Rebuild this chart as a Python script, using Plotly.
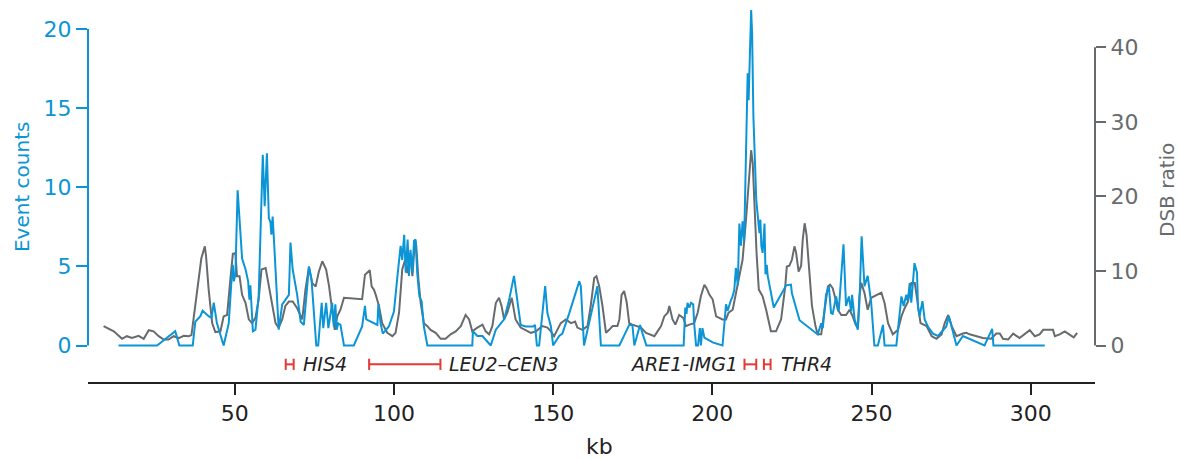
import plotly.graph_objects as go

# ---------------- data ----------------
# Event counts (left axis, blue)
event_kb = [13.5, 25.6, 31.3, 32.6, 36.8, 37.6, 39.2, 39.9, 41.8, 42.7, 43.4, 44.4, 46.5, 48.1, 49.0, 49.4,
            49.7, 50.2, 50.9, 52.3, 53.4, 54.2, 54.6, 54.9, 55.7, 56.5, 57.5, 58.8, 59.4, 60.1, 60.7, 61.2,
            61.5, 61.9, 62.3, 63.8, 64.9, 67.0, 67.5, 68.2, 69.6, 70.7, 71.7, 73.3, 74.1, 75.6, 76.2, 77.3,
            77.8, 78.7, 79.4, 80.1, 80.6, 81.1, 81.6, 82.0, 82.5, 83.2, 84.3, 87.4, 90.0, 90.9, 91.3, 94.8,
            95.1, 95.8, 96.5, 98.4, 100.0, 101.0, 102.1, 102.6, 103.2, 103.7, 104.3, 104.7, 105.2, 105.8,
            106.3, 106.8, 107.3, 108.0, 108.7, 109.4, 110.5, 124.6, 124.8, 126.2, 127.8, 130.4, 132.0,
            134.6, 136.2, 137.7, 138.8, 139.8, 141.4, 143.7, 144.3, 144.9, 145.6, 147.5, 148.2, 149.3,
            150.0, 151.9, 152.9, 155.0, 158.2, 158.7, 159.7, 163.9, 165.0, 170.8, 173.9, 174.9, 175.5,
            177.3, 178.1, 179.3, 191.0, 191.5, 191.9, 192.2, 192.8, 193.3, 194.0, 194.3, 194.9, 195.5,
            196.1, 196.4, 196.9, 197.5, 200.1, 203.2, 204.3, 204.8, 205.9, 206.2, 206.9, 207.2, 207.4,
            208.0, 208.5, 209.0, 209.5, 210.0, 210.6, 211.1, 211.4, 211.6, 212.2, 212.5, 212.9, 213.8,
            214.3, 214.8, 215.1, 215.4, 215.8, 216.4, 216.7, 217.1, 217.4, 219.3, 223.2, 224.7, 225.0,
            227.4, 233.1, 234.2, 234.7, 235.7, 236.6, 237.3, 237.8, 238.4, 238.9, 239.7, 241.2, 242.0,
            242.9, 243.6, 243.9, 244.7, 245.7, 246.2, 246.9, 247.8, 248.8, 249.9, 250.9, 252.0, 253.6,
            254.1, 257.8, 259.4, 260.1, 260.9, 261.4, 262.0, 262.5, 263.5, 264.3, 264.6, 265.1, 266.0,
            266.7, 267.7, 269.3, 270.9, 273.5, 274.3, 276.7, 278.7, 285.5, 287.9, 288.3, 304.4]
event_counts = [0, 0, 0.9, 0, 0, 1.5, 1.85, 2.2, 1.85, 1.75, 2.7, 1.4, 0, 1.4, 4.2, 5.1,
                4.05, 4.5, 9.8, 5.5, 4.8, 4.05, 2.9, 3.8, 0.9, 1.0, 3.1, 12.05, 8.8, 12.15, 8.05, 7.8,
                7.0, 8.15, 6.7, 1.0, 2.6, 3.2, 6.5, 4.8, 3.2, 1.5, 1.3, 5.0, 4.2, 0, 0, 2.7,
                1.1, 2.7, 1.1, 2.0, 2.7, 1.2, 2.6, 1.0, 1.4, 1.3, 0, 0, 1.2, 2.5, 1.65, 1.3,
                2.6, 1.4, 0.75, 1.2, 2.15, 4.2, 6.3, 5.4, 7.0, 4.6, 6.7, 4.4, 6.05, 4.6,
                6.6, 6.7, 4.6, 3.1, 2.8, 1.2, 0, 0, 0.9, 0.6, 0.6, 0, 1.0,
                1.65, 2.9, 4.4, 2.9, 1.3, 1.2, 1.2, 1.3, 0, 0, 3.75, 2.05, 1.2,
                0, 0.6, 0.75, 2.0, 4.05, 3.75, 0, 3.75, 0, 0, 1.3, 1.3, 0,
                1.3, 0.75, 0, 0, 2.4, 2.0, 2.7, 2.4, 2.7, 2.6, 1.4, 0, 0,
                1.1, 0, 1.1, 0.5, 0.2, 0, 2.6, 2.2, 2.9, 3.0, 3.5, 4.4, 4.9,
                3.8, 7.7, 6.3, 7.85, 6.6, 11.7, 17.2, 15.5, 17.2, 21.2, 19.7, 14.5, 9.2,
                8.15, 7.1, 7.95, 6.3, 5.85, 7.7, 4.5, 5.1, 4.4, 2.4, 3.8, 3.85, 3.3,
                1.6, 0.7, 1.4, 1.1, 3.2, 3.75, 2.05, 2.0, 2.5, 3.1, 2.15, 6.4, 2.5,
                3.1, 2.15, 3.2, 1.65, 1.0, 2.7, 6.9, 3.75, 4.4, 2.7, 0, 0, 1.3,
                0, 0, 3.1, 2.5, 3.2, 2.8, 3.95, 2.7, 5.2, 4.6, 2.4, 1.85, 2.8,
                1.65, 1.2, 0.75, 0.6, 1.2, 1.85, 0, 0.6, 0, 1.05, 0, 0]

# DSB ratio (right axis, grey)
dsb_kb = [8.8, 12.0, 14.6, 16.1, 17.7, 19.8, 21.4, 23.0, 24.5, 26.1, 27.7, 29.2, 30.8, 32.4, 34.0, 35.5,
          36.4, 37.6, 38.7, 39.5, 40.6, 41.0, 41.8, 42.9, 43.9, 45.5, 46.5, 47.6, 48.6, 49.4, 50.2, 50.7,
          51.5, 52.3, 53.4, 54.4, 55.4, 56.5, 57.5, 58.4, 59.7, 60.7, 61.7, 62.8, 63.8, 64.9, 65.9, 67.0,
          68.2, 69.6, 71.2, 72.2, 73.3, 74.3, 75.4, 76.4, 77.5, 78.7, 79.6, 80.6, 81.4, 82.2, 83.2, 84.3,
          90.0, 90.9, 91.6, 92.4, 93.0, 93.7, 94.2, 95.3, 96.3, 97.9, 99.5, 100.5, 101.6, 102.6, 103.5,
          104.2, 105.0, 105.8, 106.6, 107.0, 107.7, 108.4, 109.4, 110.5, 111.5, 113.1, 114.7, 116.2,
          117.8, 119.4, 121.0, 122.5, 123.6, 124.6, 126.2, 127.8, 128.8, 129.9, 130.9, 132.0, 133.0,
          133.8, 134.6, 135.6, 137.0, 138.2, 139.8, 141.4, 143.0, 144.6, 146.6, 148.2, 149.3, 150.3,
          151.4, 152.4, 154.0, 155.6, 156.9, 157.6, 159.2, 160.8, 161.8, 162.9, 163.6, 164.5, 165.5,
          166.6, 167.6, 168.7, 170.2, 170.8, 171.5, 172.3, 173.1, 173.9, 174.9, 176.0, 177.6, 179.2,
          180.7, 181.8, 182.8, 183.9, 184.9, 186.0, 186.5, 187.5, 188.4, 189.6, 190.9, 191.7, 192.8,
          194.3, 195.4, 196.4, 197.5, 198.2, 199.1, 200.1, 201.2, 202.2, 203.2, 204.3, 205.1, 206.4,
          207.4, 208.5, 209.5, 210.6, 211.6, 212.2, 212.7, 213.2, 213.9, 214.6, 215.8, 216.9, 218.4,
          220.0, 221.6, 222.9, 223.4, 224.2, 225.0, 225.8, 226.3, 227.1, 227.9, 228.4, 229.0, 229.6,
          230.5, 231.3, 232.4, 233.1, 234.2, 235.2, 236.3, 237.0, 237.8, 238.7, 239.4, 240.5, 242.0,
          243.1, 244.1, 245.0, 245.7, 246.2, 246.8, 247.8, 248.8, 249.9, 251.5, 253.1, 254.1, 255.2,
          256.7, 258.3, 259.4, 260.4, 261.5, 262.5, 263.6, 264.6, 265.4, 267.3, 268.9, 270.4, 272.0,
          273.0, 274.1, 275.2, 276.7, 278.7, 279.8, 280.8, 282.9, 285.0, 287.6, 289.2, 290.3, 291.3,
          292.9, 294.5, 296.5, 298.1, 299.7, 301.3, 302.8, 303.9, 307.0, 307.6, 309.1, 310.7, 312.3,
          313.5, 314.6]
dsb_ratio = [2.6, 1.9, 0.9, 1.25, 1.0, 1.3, 0.9, 2.05, 1.9, 1.25, 0.8, 0.8, 1.25, 1.0, 1.3, 1.25,
             1.4, 5.3, 8.8, 11.7, 13.3, 11.9, 7.5, 3.0, 1.8, 1.9, 3.9, 4.1, 8.8, 12.3, 12.4, 9.3,
             9.3, 6.8, 5.7, 3.5, 3.0, 3.7, 6.2, 10.2, 10.4, 7.9, 5.3, 3.0, 2.4, 3.5, 5.3, 5.9,
             5.9, 5.0, 3.5, 7.5, 10.5, 8.4, 7.9, 9.9, 11.3, 10.2, 8.0, 4.4, 2.1, 3.9, 4.8, 6.4,
             6.2, 9.5, 9.8, 10.1, 7.9, 7.5, 6.9, 5.3, 3.0, 1.7, 1.25, 1.7, 4.4, 10.2, 11.5,
             9.7, 12.4, 9.3, 14.2, 13.4, 8.8, 5.7, 3.0, 2.6, 2.1, 1.7, 0.9, 0.9,
             1.5, 1.9, 2.6, 4.1, 3.5, 1.9, 2.4, 2.8, 1.9, 1.5, 2.6, 5.7, 6.4,
             5.3, 3.5, 4.4, 6.4, 3.5, 2.4, 2.1, 1.7, 1.9, 2.6, 2.4, 1.9, 1.25,
             2.1, 3.0, 3.5, 3.0, 3.2, 2.4, 2.1, 2.6, 5.3, 9.05, 9.3, 7.9, 5.3,
             1.7, 2.1, 2.6, 2.6, 3.5, 6.8, 7.3, 5.8, 3.0, 2.8, 2.6, 2.4, 1.7,
             1.5, 1.25, 1.9, 2.6, 3.9, 4.4, 5.3, 3.5, 2.8, 4.1, 3.7, 2.6, 2.8,
             3.0, 4.4, 6.6, 8.15, 7.7, 6.8, 6.2, 3.9, 3.7, 3.5, 3.5, 4.4, 4.8,
             7.05, 9.3, 11.5, 17.0, 22.6, 26.2, 24.4, 18.6, 12.4, 7.5, 6.6, 4.8, 1.9,
             1.9, 3.5, 7.9, 10.6, 10.7, 11.5, 13.3, 12.5, 9.9, 10.7, 14.2, 16.4, 14.8,
             10.2, 5.3, 2.6, 1.5, 1.5, 4.4, 7.9, 8.15, 7.7, 6.2, 4.8, 4.1, 4.1,
             4.8, 3.9, 2.8, 2.4, 6.6, 8.4, 7.05, 4.8, 6.4, 6.8, 7.1, 5.7, 3.0,
             1.5, 2.1, 3.9, 5.0, 5.9, 8.4, 8.4, 5.3, 3.0, 2.6, 1.25, 0.9, 1.5,
             3.0, 4.1, 2.6, 1.25, 1.6, 1.7, 1.5, 1.25, 1.0, 0.9, 1.6, 1.6, 0.9,
             0.8, 1.6, 1.0, 1.5, 2.05, 1.25, 1.5, 2.1, 2.1, 1.25, 1.5, 1.9, 1.5,
             1.1, 1.7]

# gene regions (kb)
gene_names = ["HIS4", "LEU2\u2013CEN3", "ARE1-IMG1", "THR4"]
gene_start = [66.0, 92.2, 210.1, 216.2]
gene_end = [68.5, 114.6, 213.8, 218.3]
gene_label_x = [70.9, 116.7, 208.6, 220.9]
gene_label_anchor = ["left", "left", "right", "left"]

x_ticks = [50, 100, 150, 200, 250, 300]
event_ticks = [0, 5, 10, 15, 20]
dsb_ticks = [0, 10, 20, 30, 40]

# ---------------- style ----------------
BLUE = "#0b95d6"
GREY = "#676b6e"
RED = "#e53935"
FONT = "DejaVu Sans"
gene_y = -1.19

fig = go.Figure()

# grey DSB ratio on base axis (y), blue on overlaying axis (y2) so blue is drawn on top
fig.add_trace(go.Scatter(x=dsb_kb, y=dsb_ratio, mode="lines", line=dict(color=GREY, width=2),
                         yaxis="y", showlegend=False, hoverinfo="skip"))
fig.add_trace(go.Scatter(x=event_kb, y=event_counts, mode="lines", line=dict(color=BLUE, width=2),
                         yaxis="y2", showlegend=False, hoverinfo="skip"))

for s, e in zip(gene_start, gene_end):
    fig.add_trace(go.Scatter(x=[s, e], y=[gene_y, gene_y], mode="lines+markers",
                             line=dict(color=RED, width=2),
                             marker=dict(symbol="line-ns", size=8, color=RED, line=dict(color=RED, width=2)),
                             yaxis="y2", showlegend=False, hoverinfo="skip"))

annotations = []
for name, lx, anc in zip(gene_names, gene_label_x, gene_label_anchor):
    annotations.append(dict(x=lx, y=gene_y, xref="x", yref="y2", text=f"<i>{name}</i>",
                            showarrow=False, xanchor=anc, yanchor="middle",
                            font=dict(family=FONT, size=19, color="#222222")))

annotations += [
    dict(x=-0.0655, y=0.5105, xref="paper", yref="paper", text="Event counts", textangle=-90,
         showarrow=False, xanchor="center", yanchor="middle", font=dict(family=FONT, size=20, color=BLUE)),
    dict(x=1.0715, y=0.5026, xref="paper", yref="paper", text="DSB ratio", textangle=-90,
         showarrow=False, xanchor="center", yanchor="middle", font=dict(family=FONT, size=20, color=GREY)),
    dict(x=0.5084, y=-0.170, xref="paper", yref="paper", text="kb",
         showarrow=False, xanchor="center", yanchor="middle", font=dict(family=FONT, size=22, color="#222222")),
]

shapes = [
    dict(type="line", xref="paper", x0=0, x1=0, yref="y2", y0=0, y1=20, line=dict(color=BLUE, width=2)),
    dict(type="line", xref="paper", x0=1, x1=1, yref="y", y0=0, y1=40, line=dict(color=GREY, width=2)),
]

fig.update_layout(
    width=1181, height=459,
    margin=dict(l=88, r=86, t=0, b=77),
    paper_bgcolor="white", plot_bgcolor="white",
    font=dict(family=FONT, size=22, color="#222222"),
    xaxis=dict(range=[3.9, 320.2], tickvals=x_ticks, ticks="outside", ticklen=11, tickwidth=2,
               tickcolor="#222222", showline=True, linecolor="#222222", linewidth=2,
               showgrid=False, zeroline=False, tickfont=dict(size=22, color="#222222")),
    yaxis=dict(range=[-4.896, 46.35], tickvals=dsb_ticks, side="right", ticks="outside", ticklen=10,
               tickwidth=2, tickcolor=GREY, tickfont=dict(size=22, color=GREY),
               showline=False, showgrid=False, zeroline=False),
    yaxis2=dict(range=[-2.306, 21.83], tickvals=event_ticks, side="left", overlaying="y",
                ticks="outside", ticklen=11, tickwidth=2, tickcolor=BLUE,
                tickfont=dict(size=22, color=BLUE), showline=False, showgrid=False, zeroline=False),
    annotations=annotations,
    shapes=shapes,
)

fig.write_html("out.html")
